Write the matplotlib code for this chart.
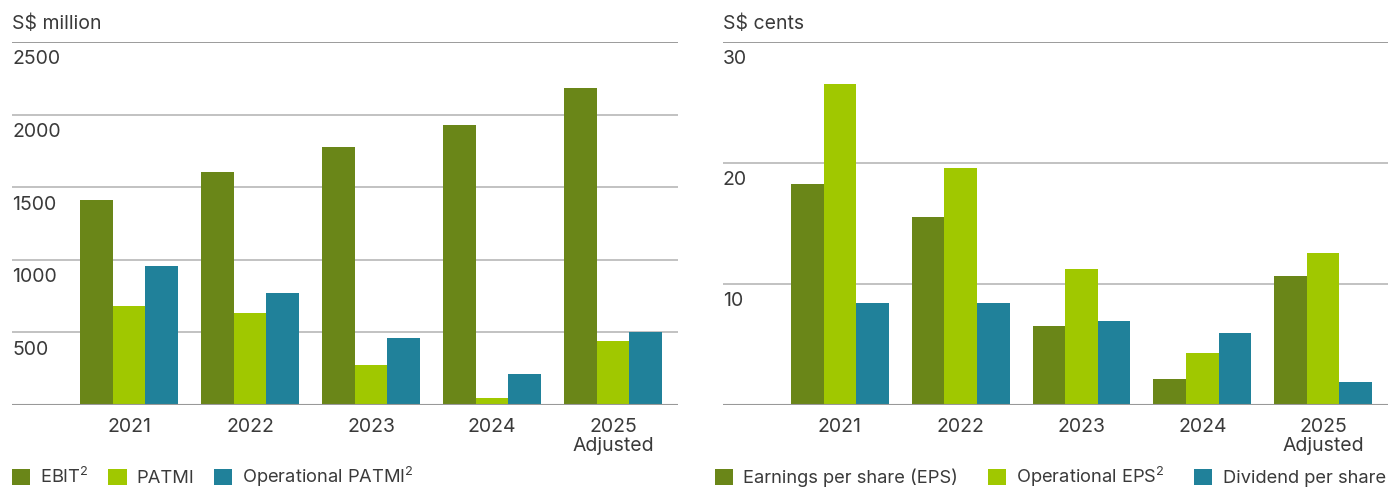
import matplotlib
matplotlib.use("Agg")
import matplotlib.pyplot as plt
from matplotlib.patches import Patch
import numpy as np

plt.rcParams['font.family'] = ['Inter', 'DejaVu Sans']
plt.rcParams['mathtext.fontset'] = 'custom'
plt.rcParams['mathtext.rm'] = 'Inter'
plt.rcParams['mathtext.default'] = 'rm'

# data
years = ["2021", "2022", "2023", "2024", "2025\nAdjusted"]

ebit = [1412, 1605, 1777, 1928, 2183]
patmi = [682, 634, 275, 48, 441]
op_patmi = [957, 771, 461, 213, 503]
left_ticks = [500, 1000, 1500, 2000, 2500]

eps = [18.3, 15.5, 6.5, 2.15, 10.7]
op_eps = [26.5, 19.6, 11.2, 4.3, 12.6]
dps = [8.45, 8.45, 6.95, 5.95, 1.9]
right_ticks = [10, 20, 30]

c_dark = "#6a8618"
c_lime = "#a0c800"
c_teal = "#20819a"
txt = "#3a3a3a"

fig = plt.figure(figsize=(13.92, 4.88), dpi=100)
W, H = 1392, 488


def panel(x0, x1, series, labels, ticks, ymax, unit, gap, lx):
    ax = fig.add_axes([x0 / W, (H - 405) / H, (x1 - x0) / W, (405 - 42) / H])
    x = np.arange(len(years))
    bw = 0.27
    cols = [c_dark, c_lime, c_teal]
    for k, vals in enumerate(series):
        ax.bar(x + (k - 1) * bw, vals, bw, color=cols[k], zorder=3, linewidth=0)
    ax.set_xlim(-0.967, 4.537)
    ax.set_ylim(0, ymax)
    for t in ticks:
        ax.axhline(t, color="#bdbdbd", lw=1.3, zorder=1)
        ax.annotate(str(t), (0, t), xycoords=ax.get_yaxis_transform(),
                    xytext=(0, -6), textcoords="offset points",
                    ha="left", va="top", fontsize=14, color=txt)
    ax.axhline(ymax, color="#999999", lw=1.3, zorder=1)
    ax.axhline(0, color="#999999", lw=1.5, zorder=4)
    for s in ax.spines.values():
        s.set_visible(False)
    ax.set_yticks([])
    ax.set_xticks(x)
    ax.set_xticklabels(years, fontsize=14, color=txt, linespacing=1.1)
    ax.tick_params(axis="x", length=0, pad=9)
    ax.text(0, 1.025, unit, transform=ax.transAxes, ha="left", va="bottom",
            fontsize=14, color=txt)
    handles = [Patch(facecolor=c, edgecolor="none") for c in cols]
    ax.legend(handles, labels, loc="upper left", bbox_to_anchor=(lx, -0.165),
              ncol=3, frameon=False, fontsize=13.2, handlelength=1.0,
              handleheight=1.0, handletextpad=0.55, columnspacing=gap,
              borderaxespad=0, borderpad=0, labelcolor=txt)
    return ax


panel(12, 678, [ebit, patmi, op_patmi],
      ["EBIT$^{2}$", "PATMI", "Operational PATMI$^{2}$"],
      left_ticks, 2500, "S$ million", 1.05, 0.0)
panel(723, 1388, [eps, op_eps, dps],
      ["Earnings per share (EPS)", "Operational EPS$^{2}$", "Dividend per share"],
      right_ticks, 30, "S$ cents", 1.6, -0.012)

fig.savefig("out.png", dpi=100, facecolor="white")
